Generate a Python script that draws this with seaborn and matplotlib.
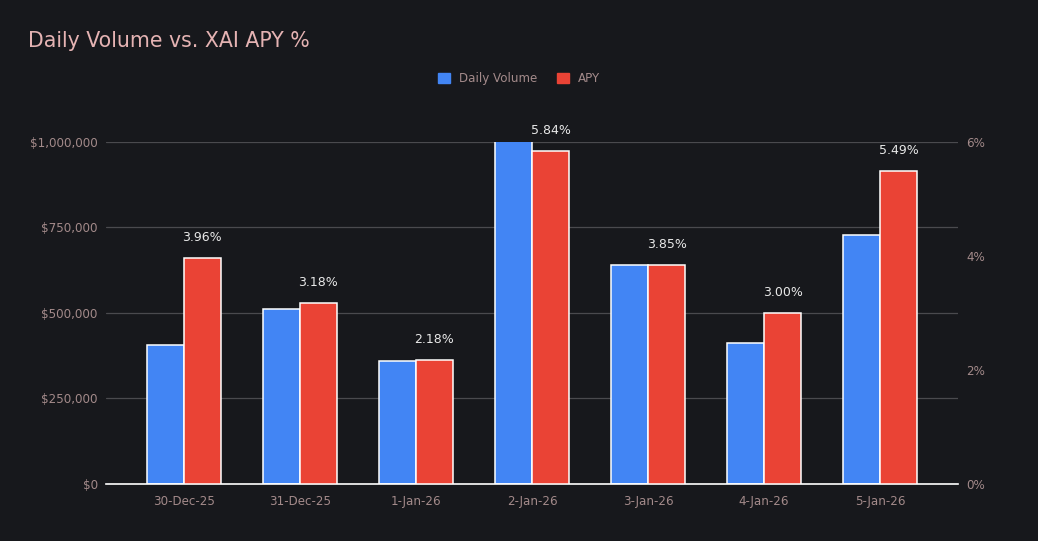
import pandas as pd
import matplotlib.pyplot as plt
import matplotlib.ticker as mticker
import seaborn as sns

dates = ['30-Dec-25', '31-Dec-25', '1-Jan-26', '2-Jan-26', '3-Jan-26', '4-Jan-26', '5-Jan-26']
volume = [406000, 512000, 360000, 1030000, 640000, 412000, 728000]
apy = [3.96, 3.18, 2.18, 5.84, 3.85, 3.00, 5.49]
series = ['Daily Volume', 'APY']

bg = '#17181c'
blue = '#4285f4'
red = '#ea4335'
txt = '#a38a8a'

# long tables, the other series left empty so dodge keeps both slots
df_vol = pd.DataFrame({'Fecha': dates * 2,
                       'Serie': ['Daily Volume'] * 7 + ['APY'] * 7,
                       'Valor': volume + [float('nan')] * 7})
df_apy = pd.DataFrame({'Fecha': dates * 2,
                       'Serie': ['Daily Volume'] * 7 + ['APY'] * 7,
                       'Valor': [float('nan')] * 7 + apy})

sns.set_theme(style="dark")
plt.rcParams['font.family'] = ['DejaVu Sans']

fig = plt.figure(figsize=(10.38, 5.41), dpi=100, facecolor=bg)
ax = fig.add_axes([0.1021, 0.1054, 0.8208, 0.6322])
ax.set_facecolor(bg)
ax2 = ax.twinx()

sns.barplot(data=df_vol, x='Fecha', y='Valor', hue='Serie', hue_order=series,
            palette=[blue, red], saturation=1, width=0.64, edgecolor='white',
            linewidth=1.1, legend=False, ax=ax)
sns.barplot(data=df_apy, x='Fecha', y='Valor', hue='Serie', hue_order=series,
            palette=[blue, red], saturation=1, width=0.64, edgecolor='white',
            linewidth=1.1, legend=False, ax=ax2)

ax.set_ylim(0, 1000000)
ax2.set_ylim(0, 6)
ax.set_xlim(-0.67, 6.67)
ax.set_yticks([0, 250000, 500000, 750000, 1000000])
ax.yaxis.set_major_formatter(mticker.FuncFormatter(lambda v, p: f'${v:,.0f}'))
ax2.set_yticks([0, 2, 4, 6])
ax2.yaxis.set_major_formatter(mticker.FuncFormatter(lambda v, p: f'{v:.0f}%'))

ax.grid(axis='y', color='#4a4a4e', linewidth=0.9)
ax.set_axisbelow(True)
ax2.grid(False)
for a in (ax, ax2):
    for s in a.spines.values():
        s.set_visible(False)
    a.tick_params(length=0, labelsize=8.6, colors=txt)
    a.set_xlabel('')
    a.set_ylabel('')
ax.spines['bottom'].set_visible(True)
ax.spines['bottom'].set_color('white')
ax.spines['bottom'].set_linewidth(1.2)
ax.tick_params(axis='x', pad=8)
ax.tick_params(axis='y', pad=6)
ax2.tick_params(axis='y', pad=6)

# etiquetas APY
for i, v in enumerate(apy):
    ax2.annotate(f'{v:.2f}%', (i + 0.16, v), xytext=(0, 10), textcoords='offset points',
                 ha='center', va='bottom', color='#e8e8e8', fontsize=9)

handles = [plt.Rectangle((0, 0), 1, 1, color=blue), plt.Rectangle((0, 0), 1, 1, color=red)]
fig.legend(handles, series, loc='center', bbox_to_anchor=(0.5, 0.855), ncol=2, frameon=False,
           fontsize=8.6, labelcolor=txt, handlelength=1.0, handleheight=1.0,
           handletextpad=0.8, columnspacing=1.6)

fig.text(0.027, 0.925, 'Daily Volume vs. XAI APY %', color='#e5b3b3', fontsize=14.8,
         ha='left', va='center')

fig.savefig('out.png', dpi=100, facecolor=bg)
